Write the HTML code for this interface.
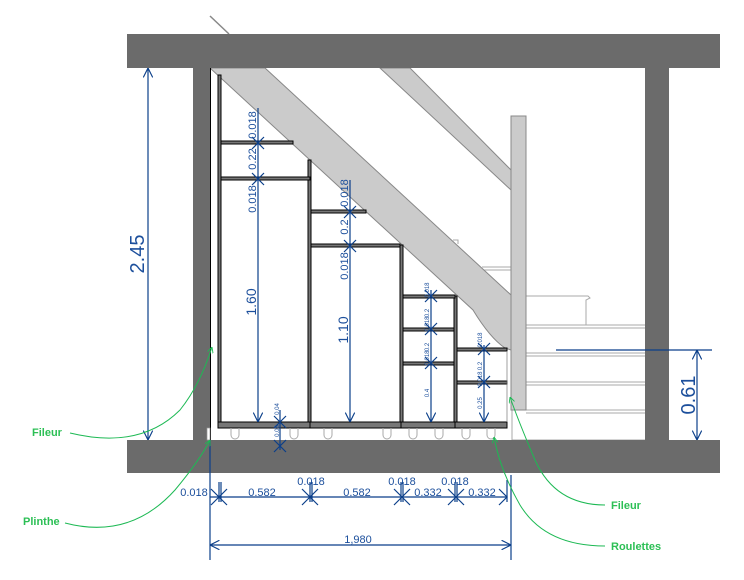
<!DOCTYPE html>
<html><head><meta charset="utf-8"><style>html,body{margin:0;padding:0;background:#fff}svg{display:block}</style></head>
<body>
<svg width="744" height="580" viewBox="0 0 744 580" xmlns="http://www.w3.org/2000/svg" font-family="Liberation Sans, sans-serif">
<defs>
<marker id="ar" viewBox="0 0 10 10" refX="10" refY="5" markerWidth="8" markerHeight="8" orient="auto-start-reverse"><path d="M0,0 L10,5 L0,10" fill="none" stroke="#0b3f8a" stroke-width="1.2"/></marker>
<marker id="ga" viewBox="0 0 10 10" refX="10" refY="5" markerWidth="6" markerHeight="6" orient="auto"><path d="M0,0 L10,5 L0,10" fill="none" stroke="#1db954" stroke-width="1.5"/></marker>
</defs>
<g stroke="#aaa" fill="none" stroke-width="1">
<rect x="512" y="410" width="134" height="30" fill="#fff"/>
<line x1="526" y1="413" x2="646" y2="413"/>
<line x1="526" y1="382" x2="645" y2="382"/><line x1="526" y1="385" x2="645" y2="385"/>
<line x1="526" y1="353" x2="645" y2="353"/><line x1="526" y1="356" x2="645" y2="356"/>
<line x1="526" y1="325" x2="645" y2="325"/><line x1="526" y1="328" x2="645" y2="328"/>
<path d="M526,296 L588,296 L590,298 L586,300 L586,325"/>
<path d="M482,267 L511,267 M482,270 L511,270"/>
<path d="M453,240 L458,240 L458,244"/>
</g>
<polygon points="380,68 410,68 511,170 511,190" fill="#cbcbcb" stroke="#888"/>
<line x1="210" y1="16" x2="229" y2="34" stroke="#888" stroke-width="1.5"/>
<path d="M210,68 L265,68 L511,295 L511,350 L505,348 Q490,338 473,310 Z" fill="#cbcbcb" stroke="#888"/>
<rect x="511" y="116" width="15" height="294" fill="#cbcbcb" stroke="#888"/>
<rect x="127" y="34" width="593" height="34" fill="#6b6b6b"/>
<rect x="127" y="440" width="593" height="33" fill="#6b6b6b"/>
<rect x="193" y="68" width="17" height="372" fill="#6b6b6b"/>
<rect x="645" y="68" width="24" height="372" fill="#6b6b6b"/>
<line x1="210.5" y1="68" x2="210.5" y2="440" stroke="#000"/>
<rect x="207" y="428" width="3" height="12" fill="#fff" stroke="#999" stroke-width="0.7"/>
<g fill="#777" stroke="#000" stroke-width="1">
<rect x="218" y="75" width="3" height="347"/>
<rect x="308" y="160" width="3" height="262"/>
<rect x="400" y="245" width="3" height="177"/>
<rect x="454" y="296" width="3" height="126"/>
<rect x="221" y="141" width="72" height="3"/>
<rect x="221" y="177" width="89" height="3"/>
<rect x="311" y="210" width="55" height="3"/>
<rect x="311" y="244" width="89" height="3"/>
<rect x="403" y="295" width="52" height="3"/>
<rect x="403" y="328" width="51" height="3"/>
<rect x="403" y="362" width="51" height="3"/>
<rect x="457" y="348" width="50" height="3"/>
<rect x="457" y="381" width="50" height="3"/>
<rect x="218" y="422" width="92" height="6"/>
<rect x="310" y="422" width="91" height="6"/>
<rect x="401" y="422" width="54" height="6"/>
<rect x="455" y="422" width="52" height="6"/>
</g>
<line x1="507" y1="351" x2="507" y2="422" stroke="#777" stroke-width="0.7"/>
<g stroke="#aaa" fill="none" stroke-width="1">
<path d="M231,428 v7 a4,4 0 0 0 8,0 v-7"/><path d="M290,428 v7 a4,4 0 0 0 8,0 v-7"/>
<path d="M324,428 v7 a4,4 0 0 0 8,0 v-7"/><path d="M383,428 v7 a4,4 0 0 0 8,0 v-7"/>
<path d="M409,428 v7 a4,4 0 0 0 8,0 v-7"/><path d="M435,428 v7 a4,4 0 0 0 8,0 v-7"/>
<path d="M462,428 v7 a4,4 0 0 0 8,0 v-7"/><path d="M487,428 v7 a4,4 0 0 0 8,0 v-7"/>
</g>
<g stroke="#0b3f8a" stroke-width="1.2" fill="none">
<line x1="148" y1="68" x2="148" y2="440" marker-start="url(#ar)" marker-end="url(#ar)"/>
<line x1="697" y1="350" x2="697" y2="440" marker-start="url(#ar)" marker-end="url(#ar)"/>
<line x1="556" y1="350" x2="712" y2="350"/>
<line x1="258" y1="108" x2="258" y2="422" marker-end="url(#ar)"/>
<line x1="350" y1="180" x2="350" y2="422" marker-end="url(#ar)"/>
<line x1="431" y1="290" x2="431" y2="422" marker-end="url(#ar)"/>
<line x1="484" y1="345" x2="484" y2="422" marker-end="url(#ar)"/>
<line x1="280" y1="410" x2="280" y2="450"/>
<path d="M252,137 l12,12 M264,137 l-12,12 M252,173 l12,12 M264,173 l-12,12 M344,206 l12,12 M356,206 l-12,12 M344,240 l12,12 M356,240 l-12,12 M425,290 l12,12 M437,290 l-12,12 M425,323 l12,12 M437,323 l-12,12 M425,357 l12,12 M437,357 l-12,12 M478,343 l12,12 M490,343 l-12,12 M478,376 l12,12 M490,376 l-12,12 M274,416 l12,12 M286,416 l-12,12 M274,440 l12,12 M286,440 l-12,12"/>
<line x1="210" y1="440" x2="210" y2="560"/>
<line x1="511" y1="475" x2="511" y2="560"/>
<line x1="210" y1="497" x2="507" y2="497"/>
<path d="M507,480 v22 M219,482 v20 M221,482 v20 M310,482 v20 M312,482 v20 M401,482 v20 M403,482 v20 M455,482 v20 M457,482 v20"/>
<path d="M211,489 l16,16 M227,489 l-16,16 M302,489 l16,16 M318,489 l-16,16 M394,489 l16,16 M410,489 l-16,16 M448,489 l16,16 M464,489 l-16,16 M499,489 l8,8 l-8,8"/>
<line x1="210" y1="545" x2="511" y2="545" marker-start="url(#ar)" marker-end="url(#ar)"/>
</g>
<g fill="#1c4f9c">
<text transform="translate(144,254) rotate(-90)" font-size="20" text-anchor="middle">2.45</text>
<text transform="translate(695,395) rotate(-90)" font-size="20" text-anchor="middle">0.61</text>
<g font-size="11" text-anchor="middle">
<text transform="translate(256,125) rotate(-90)">0.018</text>
<text transform="translate(256,159) rotate(-90)">0.22</text>
<text transform="translate(256,199) rotate(-90)">0.018</text>
<text transform="translate(256,302) rotate(-90)" font-size="14">1.60</text>
<text transform="translate(348,193) rotate(-90)">0.018</text>
<text transform="translate(348,227) rotate(-90)">0.2</text>
<text transform="translate(348,266) rotate(-90)">0.018</text>
<text transform="translate(348,330) rotate(-90)" font-size="14">1.10</text>
</g>
<g font-size="6" text-anchor="middle">
<text transform="translate(429,290) rotate(-90)">0.018</text>
<text transform="translate(429,313) rotate(-90)">0.2</text>
<text transform="translate(429,324) rotate(-90)">0.018</text>
<text transform="translate(429,347) rotate(-90)">0.2</text>
<text transform="translate(429,358) rotate(-90)">0.018</text>
<text transform="translate(429,393) rotate(-90)">0.4</text>
<text transform="translate(482,340) rotate(-90)">0.018</text>
<text transform="translate(482,366) rotate(-90)">0.2</text>
<text transform="translate(482,379) rotate(-90)">0.018</text>
<text transform="translate(482,403) rotate(-90)">0.25</text>
<text transform="translate(279,409) rotate(-90)">0.04</text>
<text transform="translate(279,431) rotate(-90)">0.08</text>
</g>
<g font-size="11" text-anchor="middle">
<text x="194" y="496">0.018</text>
<text x="262" y="496">0.582</text>
<text x="311" y="485">0.018</text>
<text x="357" y="496">0.582</text>
<text x="402" y="485">0.018</text>
<text x="428" y="496">0.332</text>
<text x="455" y="485">0.018</text>
<text x="482" y="496">0.332</text>
<text x="358" y="543">1,980</text>
</g>
</g>
<g stroke="#1db954" stroke-width="1" fill="none">
<path d="M70,433 Q140,450 180,410 Q200,385 212,347" marker-end="url(#ga)"/>
<path d="M65,523 Q130,540 175,490 Q200,460 210,440" marker-end="url(#ga)"/>
<path d="M605,505 Q555,505 535,460 Q518,420 510,397" marker-end="url(#ga)"/>
<path d="M605,546 Q545,546 520,505 Q500,470 494,437" marker-end="url(#ga)"/>
</g>
<g fill="#2cbf55" font-size="11" font-weight="bold">
<text x="32" y="436">Fileur</text>
<text x="23" y="525">Plinthe</text>
<text x="611" y="509">Fileur</text>
<text x="611" y="550">Roulettes</text>
</g>
</svg>
</body></html>
